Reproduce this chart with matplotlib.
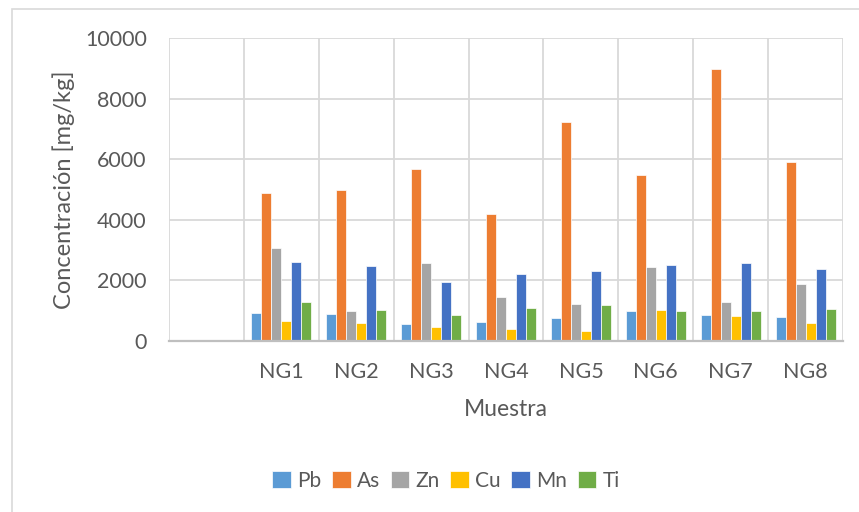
import matplotlib
matplotlib.use("Agg")
import matplotlib.pyplot as plt
import numpy as np
from matplotlib.patches import Rectangle

plt.rcParams['font.family'] = ['Lato', 'DejaVu Sans']

# datos
muestras = ['', 'NG1', 'NG2', 'NG3', 'NG4', 'NG5', 'NG6', 'NG7', 'NG8']
elementos = ['Pb', 'As', 'Zn', 'Cu', 'Mn', 'Ti']
Pb = [0, 930, 880, 570, 615, 770, 990, 845, 790]
As = [0, 4875, 4970, 5675, 4190, 7240, 5480, 8965, 5910]
Zn = [0, 3060, 990, 2565, 1440, 1230, 2430, 1275, 1870]
Cu = [0, 660, 585, 460, 385, 320, 1010, 835, 605]
Mn = [0, 2595, 2475, 1945, 2220, 2320, 2495, 2575, 2375]
Ti = [0, 1275, 1035, 860, 1090, 1190, 990, 990, 1055]
colores = ['#5b9bd5', '#ed7d31', '#a5a5a5', '#ffc000', '#4472c4', '#70ad47']

gris = '#595959'

fig = plt.figure(figsize=(8.59, 5.12), dpi=100)
# marco del grafico
fig.patches.append(Rectangle((12/859, -0.1), 1.1, 1 - 9/512 + 0.1, transform=fig.transFigure,
                             fill=False, edgecolor='#d9d9d9', linewidth=1.2))

ax = fig.add_axes([169/859, 1 - 341/512, (843 - 169)/859, (341 - 38)/512])

x = np.arange(len(muestras))
w = 0.8 / len(elementos)
series = [Pb, As, Zn, Cu, Mn, Ti]
for i, (nombre, vals) in enumerate(zip(elementos, series)):
    ax.bar(x + (i - 2.5) * w, vals, width=w, color=colores[i], label=nombre,
           edgecolor='white', linewidth=0.5, zorder=3)

ax.set_xlim(-0.5, len(muestras) - 0.5)
ax.set_ylim(0, 10000)
ax.set_yticks(np.arange(0, 10001, 2000))
ax.set_xticks(x)
ax.set_xticklabels(muestras)
ax.set_xticks(np.arange(-0.5, len(muestras), 1), minor=True)
ax.grid(True, which='major', axis='y', color='#d9d9d9', linewidth=1.3, zorder=0)
ax.grid(True, which='minor', axis='x', color='#d9d9d9', linewidth=1.3, zorder=0)
ax.tick_params(axis='both', which='both', length=0, labelsize=15.5, labelcolor=gris)
ax.tick_params(axis='y', pad=16)
ax.tick_params(axis='x', pad=15)
for s in ['top', 'right', 'left']:
    ax.spines[s].set_visible(False)
ax.spines['bottom'].set_color('#bfbfbf')
ax.spines['bottom'].set_linewidth(1.6)
ax.spines['bottom'].set_zorder(4)

fig.text(64/859, 1 - 190/512, 'Concentración [mg/kg]', rotation=90, ha='center', va='center',
         fontsize=17, color=gris)
fig.text(506/859, 1 - 410/512, 'Muestra', ha='center', va='center', fontsize=16.5, color=gris)

fig.legend(loc='center', bbox_to_anchor=(446/859, 1 - 481/512), ncol=6, frameon=False,
           fontsize=15, labelcolor=gris, handlelength=0.9, handleheight=0.9,
           handletextpad=0.3, columnspacing=0.5)

fig.savefig('out.png', dpi=100)
